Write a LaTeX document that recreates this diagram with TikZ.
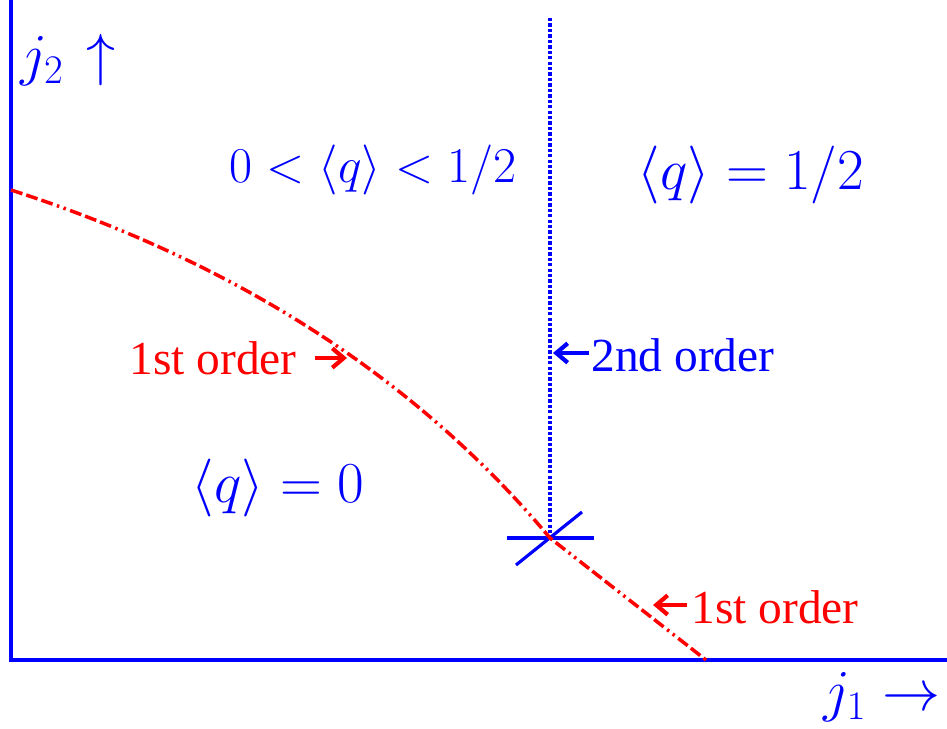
\RequirePackage{fix-cm}
\documentclass[tikz,border=0pt]{standalone}
\usepackage{fontspec}
\setmainfont{Liberation Serif}
\usetikzlibrary{arrows.meta}

\begin{document}
\begin{tikzpicture}[
  x=0.02cm, y=-0.02cm,
  axis/.style={blue, line width=2.3pt},
  lbl/.style={font=\fontsize{27}{32}\selectfont, inner sep=0pt},
  mlbl/.style={blue, font=\fontsize{28.5}{34}\selectfont, inner sep=0pt},
  biglbl/.style={blue, font=\fontsize{33}{40}\selectfont, inner sep=0pt},
  firstord/.style={red, line width=2pt,
    dash pattern=on 6.8pt off 2.3pt on 6.8pt off 2.3pt on 6.8pt off 2.6pt
                 on 1.4pt off 2.6pt on 1.4pt off 2.6pt},
  secondord/.style={blue, line width=2.3pt, dash pattern=on 1.9pt off 1.2pt},
  pointer/.style={line width=2.4pt, -{Straight Barb[length=6.5pt, width=11pt]}},
]
  \useasboundingbox (0,0) rectangle (947,729);

  % Axes
  \coordinate (ytop)   at (11,0);
  \coordinate (origin) at (11,660);
  \coordinate (xend)   at (947,660);
  \draw[axis] (ytop) -- (origin) -- (xend);
  \node[biglbl] (jtwo) at (68,60)  {$j_2\mskip2mu\uparrow$};
  \node[biglbl] (jone) at (882,697) {$j_1\rightarrow$};

  % Phase boundaries
  \coordinate (tc)    at (550,538);
  \coordinate (top)   at (550,18);
  \coordinate (start) at (11,190);
  \coordinate (stop)  at (706,660);
  \draw[secondord] (top) -- (tc);
  \draw[blue, line width=1.8pt] (tc) +(-43,0) -- +(44,0);
  \draw[blue, line width=1.8pt] (tc) +(-34,27) -- +(32,-26);
  \draw[firstord] (start) .. controls (237,263) and (417,379) .. (tc) -- (stop);

  % Phases
  \node[mlbl]   (mixed) at (373,170) {$0<\langle q\rangle<1/2$};
  \node[biglbl] (half)  at (751,175) {$\langle q\rangle=1/2$};
  \node[biglbl] (zero)  at (278,488) {$\langle q\rangle=0$};

  % Transition labels
  \coordinate (upcurve) at (347,358);
  \coordinate (vline)   at (553,353);
  \coordinate (lowcurve) at (653,605);
  \node[lbl, red]  (upfirst)  at (213,358) {1st order};
  \node[lbl, blue] (second)   at (683,355) {2nd order};
  \node[lbl, red]  (lowfirst) at (775,607) {1st order};
  \draw[pointer, red, shorten <=10.5pt] (upfirst.east) -- (upcurve);
  \draw[pointer, blue, shorten <=1pt] (second.west |- vline) -- (vline);
  \draw[pointer, red, shorten <=2pt] (lowfirst.west |- lowcurve) -- (lowcurve);
\end{tikzpicture}
\end{document}
